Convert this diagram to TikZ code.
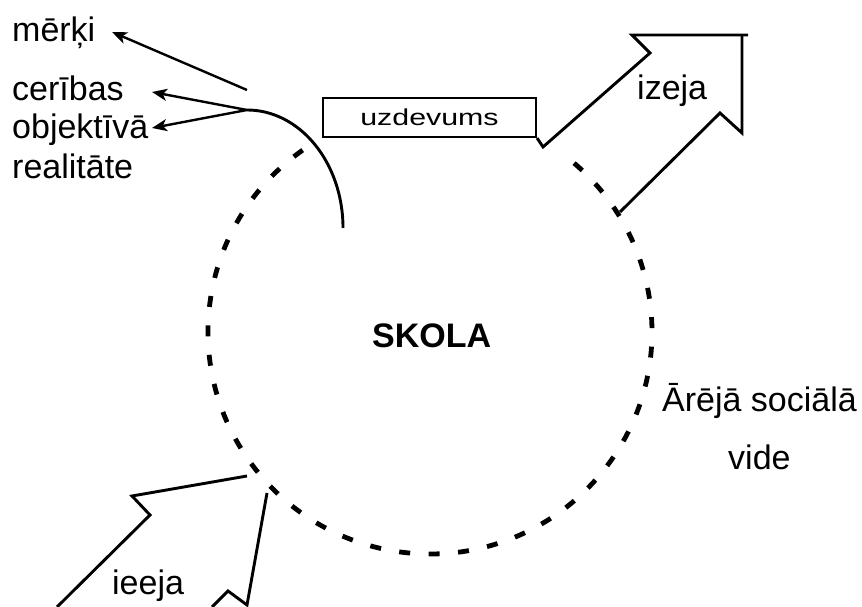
\documentclass[tikz,border=0pt]{standalone}
\usepackage{fontspec}
\setmainfont{Liberation Sans}
\usetikzlibrary{arrows.meta,calc}
\tikzset{
  lbl/.style={font=\fontsize{34}{40}\selectfont, inner sep=0pt, anchor=base west},
  solidline/.style={line width=2.9pt, line join=miter},
  dashcirc/.style={line width=4.8pt, dash pattern=on 11pt off 18.5pt},
  ptr/.style={line width=2.4pt, -{Stealth[length=15pt,width=12pt,inset=4pt]}},
}
\begin{document}
\begin{tikzpicture}[x=1pt,y=1pt]
\useasboundingbox (0,0) rectangle (862,607);
% texts
\node[lbl] (merki) at (12,565) {mērķi};
\node[lbl] (ceribas) at (12,506) {cerības};
\node[lbl] (objektiva) at (12,468) {objektīvā};
\node[lbl] (realitate) at (12,428) {realitāte};
\node[lbl, font=\fontsize{34}{40}\selectfont\bfseries] (skola) at (372,259) {SKOLA};
\node[lbl] (izeja) at (637,507) {izeja};
\node[lbl] (ieeja) at (112,12) {ieeja};
\node[lbl] (areja) at (662,195) {Ārējā sociālā};
\node[lbl] (vide) at (728,137) {vide};
% uzdevums box
\node[draw, line width=2.2pt, minimum width=213pt, minimum height=39pt, inner sep=0pt,
      font=\fontsize{23}{26}\selectfont] (uzd) at (429.5,489.5) {\scalebox{1.32}[1]{uzdevums}};
% circle (school)
\coordinate (C) at (430,275);
\draw[dashcirc] ($(C)+(125:222)$) arc[start angle=125, end angle=411, radius=222];
% solid arc (goals)
\coordinate (top) at (247,497);
\draw[solidline] (top) arc[start angle=90, end angle=0, x radius=96, y radius=118];
% pointer arrows
\coordinate (mtip) at (112,575);
\coordinate (ctip) at (152,515);
\coordinate (otip) at (152,479);
\coordinate (mstart) at (247,517);
\draw[ptr] (mstart) -- (mtip);
\draw[ptr] (top) -- (ctip);
\draw[ptr] (top) -- (otip);
% izeja arrow
\coordinate (p1) at (543,460);
\coordinate (p2) at (650,554);
\coordinate (p3) at (632,572);
\coordinate (p4) at (748,572);
\coordinate (p5) at (742,572);
\coordinate (p6) at (742,474);
\coordinate (p7) at (720,494);
\coordinate (p8) at (620,395);
\draw[solidline] (uzd.south east) -- (p1) -- (p2) -- (p3) -- (p4);
\draw[solidline] (p5) -- (p6) -- (p7) -- (p8);
% ieeja arrow
\coordinate (q1) at (247,131);
\coordinate (q2) at (132,111);
\coordinate (q3) at (150,92);
\coordinate (q4) at (57,0);
\coordinate (r1) at (267,114);
\coordinate (r2) at (247,2);
\coordinate (r3) at (228,16);
\coordinate (r4) at (212,0);
\draw[solidline] (q1) -- (q2) -- (q3) -- (q4);
\draw[solidline] (r1) -- (r2) -- (r3) -- (r4);
\end{tikzpicture}
\end{document}
